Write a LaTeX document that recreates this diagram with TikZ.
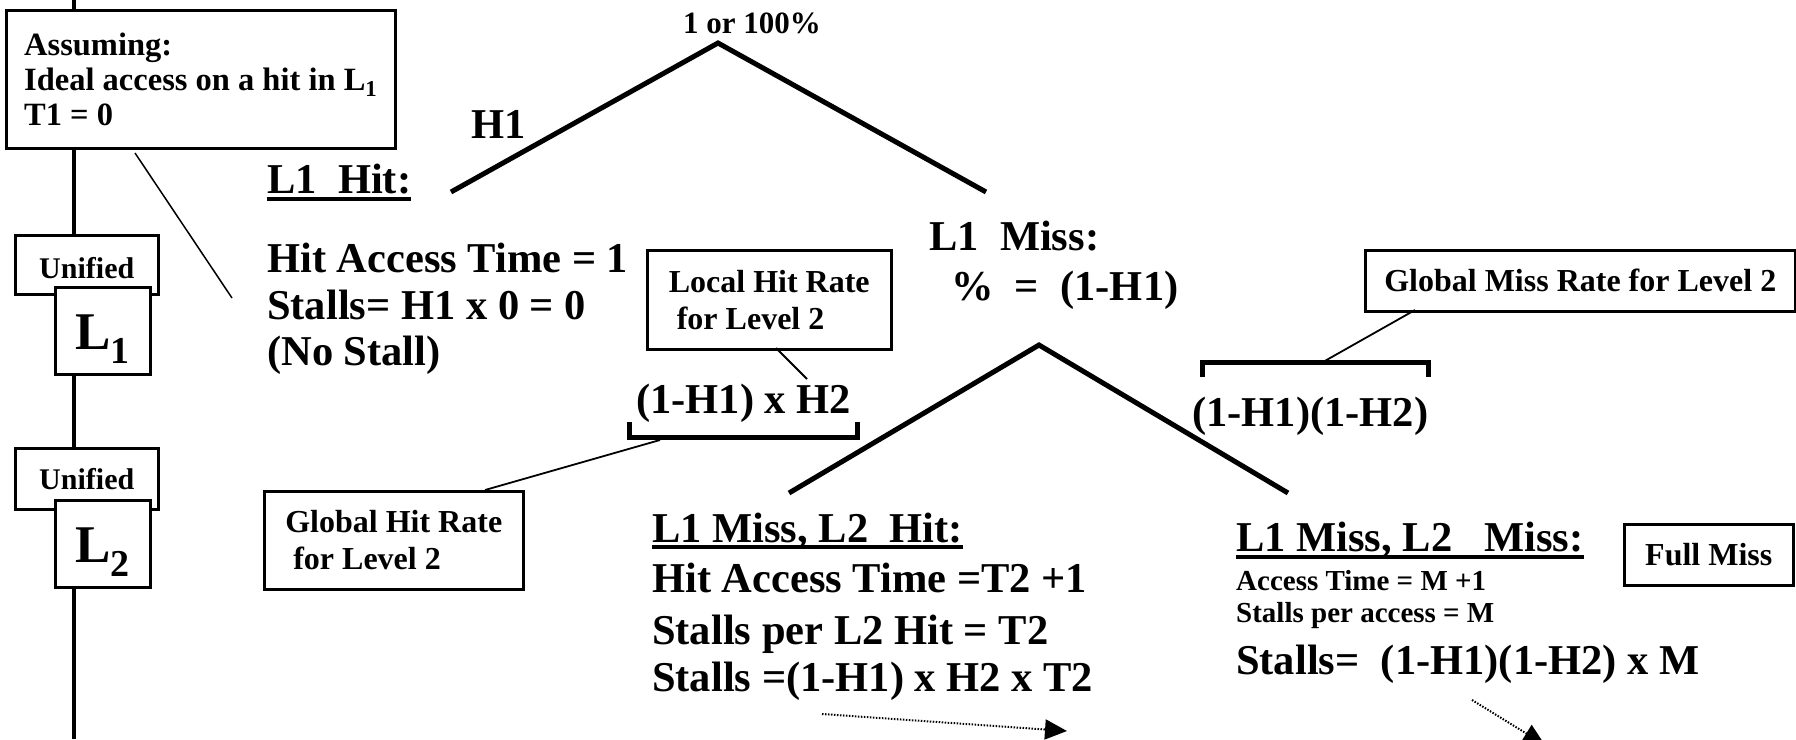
\documentclass[tikz,border=0pt]{standalone}
\usepackage{fontspec}
\setmainfont{Liberation Serif}
\usetikzlibrary{arrows.meta}
\begin{document}
\begin{tikzpicture}[x=1pt,y=-1pt,
  big/.style={inner sep=0pt, anchor=base west, font=\bfseries\fontsize{42.5}{50}\selectfont},
  mid/.style={inner sep=0pt, anchor=base west, font=\bfseries\fontsize{31}{36}\selectfont},
  sml/.style={inner sep=0pt, anchor=base west, font=\bfseries\fontsize{29}{33}\selectfont},
  box/.style={draw, line width=2.5pt, fill=white, inner sep=0pt, anchor=north west, font=\bfseries\fontsize{32}{37}\selectfont},
  tree/.style={line width=5pt},
  bracket/.style={line width=5pt},
  leader/.style={line width=1.8pt},
  uline/.style={line width=3.5pt},
  dotarrow/.style={line width=2pt, dash pattern=on 1.5pt off 1.5pt, -{Triangle[length=22pt,width=20pt]}}
]
\useasboundingbox (0,0) rectangle (1796,739);

% vertical hierarchy line
\coordinate (vtop) at (74,0);
\coordinate (vbot) at (74,739);
\draw[line width=4pt] (vtop) -- (vbot);

% assumption box
\node[box, minimum width=389, minimum height=138, align=left, font=\bfseries\fontsize{32.5}{35}\selectfont] (assume) at (5,9)
  {Assuming:\\Ideal access on a hit in L\textsubscript{1}\\T1 = 0};
\coordinate (as1) at (135,153);
\coordinate (as2) at (232,298);
\draw[leader, line width=1.5pt] (as1) -- (as2);

% cache level boxes
\node[box, minimum width=143, minimum height=59, text height=27pt, text depth=0pt, font=\bfseries\fontsize{30}{36}\selectfont] (u1) at (14,234) {Unified};
\node[box, minimum width=95, minimum height=87, text height=38pt, text depth=0pt] (lv1) at (54,286)
  {\fontsize{53}{60}\selectfont L\raisebox{-14pt}{\fontsize{38}{40}\selectfont 1}};
\node[box, minimum width=143, minimum height=61, text height=21pt, text depth=0pt, font=\bfseries\fontsize{30}{36}\selectfont] (u2) at (14,447) {Unified};
\node[box, minimum width=95, minimum height=87, text height=38pt, text depth=0pt] (lv2) at (54,499)
  {\fontsize{53}{60}\selectfont L\raisebox{-14pt}{\fontsize{38}{40}\selectfont 2}};

% first split
\node[mid] (top) at (683,33) {1 or 100\%};
\coordinate (t1) at (718,43);
\coordinate (t1l) at (451,192);
\coordinate (t1r) at (986,192);
\draw[tree] (t1l) -- (t1) -- (t1r);
\node[big] (h1) at (471,138) {H1};

% L1 hit
\node[big] (l1hit) at (267,193) {L1\ \ Hit:};
\draw[uline] ([yshift=-6pt]l1hit.base west) -- ([yshift=-6pt]l1hit.base east);
\node[big] (hat) at (267,272) {Hit Access Time = 1};
\node[big] (st1) at (267,319) {Stalls= H1 x 0 = 0};
\node[big] (nost) at (267,365) {(No Stall)};

% local hit rate
\node[box, minimum width=244, minimum height=99, align=left] (lhr) at (646,249) {Local Hit Rate\\~for Level 2};
\node[big] (h2expr) at (636,413) {(1-H1) x H2};
\coordinate (lh1) at (776,348);
\coordinate (lh2) at (807,379);
\draw[leader] (lh1) -- (lh2);
\coordinate (b1a) at (629,422);
\coordinate (b1b) at (629,437);
\coordinate (b1c) at (857,437);
\coordinate (b1d) at (857,422);
\draw[bracket] (b1a) -- (b1b) -- (b1c) -- (b1d);

% global hit rate
\node[box, minimum width=259, minimum height=98, align=left] (ghr) at (263,490) {Global Hit Rate\\~for Level 2};
\coordinate (gh1) at (660,440);
\coordinate (gh2) at (485,490);
\draw[leader] (gh1) -- (gh2);

% L1 miss
\node[big] (l1miss) at (929,250) {L1\ \ Miss:};
\node[big] (pct) at (951,300) {\%\ \ =\ \ (1-H1)};
\coordinate (t2) at (1039,345);
\coordinate (t2l) at (789,493);
\coordinate (t2r) at (1288,493);
\draw[tree] (t2l) -- (t2) -- (t2r);

% global miss rate
\node[box, minimum width=430, minimum height=61] (gmr) at (1364,249) {Global Miss Rate for Level 2};
\coordinate (gm1) at (1415,310);
\coordinate (gm2) at (1323,362);
\draw[leader] (gm1) -- (gm2);
\coordinate (b2a) at (1202,377);
\coordinate (b2b) at (1202,362);
\coordinate (b2c) at (1428,362);
\coordinate (b2d) at (1428,377);
\draw[bracket] (b2a) -- (b2b) -- (b2c) -- (b2d);
\node[big] (missexpr) at (1192,426) {(1-H1)(1-H2)};

% L1 miss, L2 hit
\node[big] (l2hit) at (652,542) {L1 Miss, L2\ \ Hit:};
\draw[uline] ([yshift=-5pt]l2hit.base west) -- ([yshift=-5pt]l2hit.base east);
\node[big] (hat2) at (652,592) {Hit Access Time =T2 +1};
\node[big] (spl2) at (652,644) {Stalls per L2 Hit = T2};
\node[big] (st2) at (652,691) {Stalls =(1-H1) x H2 x T2};
\coordinate (d1s) at (822,714);
\coordinate (d1e) at (1067,731);
\draw[dotarrow] (d1s) -- (d1e);

% L1 miss, L2 miss
\node[big] (l2miss) at (1236,551) {L1 Miss, L2\ \ \ Miss:};
\draw[uline] ([yshift=-6pt]l2miss.base west) -- ([yshift=-6pt]l2miss.base east);
\node[sml] (acc3) at (1236,590) {Access Time = M +1};
\node[sml] (spa3) at (1236,622) {Stalls per access = M};
\node[big] (st3) at (1236,674) {Stalls=\ \ (1-H1)(1-H2) x M};
\node[box, minimum width=169, minimum height=61] (fm) at (1623,523) {Full Miss};
\coordinate (d2s) at (1472,700);
\coordinate (d2e) at (1545,745);
\draw[dotarrow] (d2s) -- (d2e);
\end{tikzpicture}
\end{document}
